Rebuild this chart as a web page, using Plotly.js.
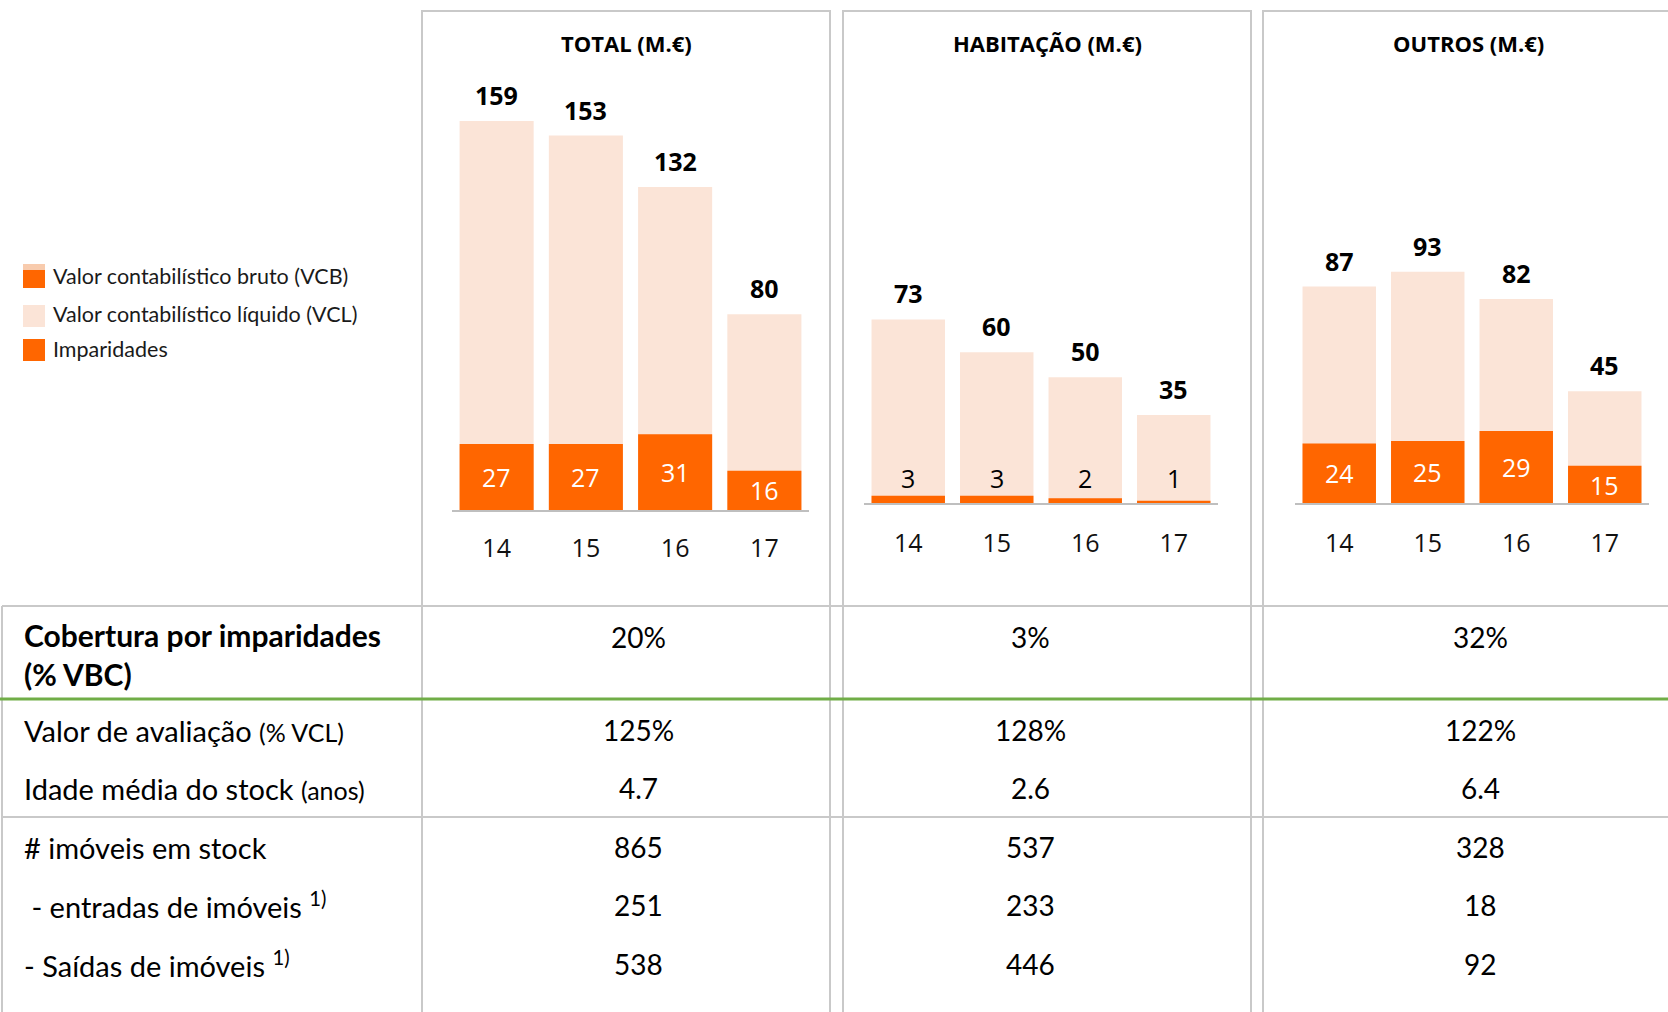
<!DOCTYPE html>
<html>
<head>
<meta charset="utf-8">
<script src="https://cdn.plot.ly/plotly-3.0.1.min.js"></script>
<style>
  html, body { margin: 0; padding: 0; background: #ffffff; }
  #chart { width: 1668px; height: 1012px; }
</style>
</head>
<body>
<div id="chart"></div>
<script>
// ---------------- DATA ----------------
const years = ['14', '15', '16', '17'];

const panelTitles = ['TOTAL (M.€)', 'HABITAÇÃO (M.€)', 'OUTROS (M.€)'];

// Valor contabilístico bruto (VCB), M.€
const totalVCB = [159, 153, 132, 80];
const habVCB   = [73, 60, 50, 35];
const outVCB   = [87, 93, 82, 45];

// Imparidades, M.€
const totalImp = [27, 27, 31, 16];
const habImp   = [3, 3, 2, 1];
const outImp   = [24, 25, 29, 15];

const legendLabels = [
  'Valor contabilístico bruto (VCB)',
  'Valor contabilístico líquido (VCL)',
  'Imparidades'
];

// Table
const rowLabels = [
  '<b>Cobertura por imparidades<br>(% VBC)</b>',
  'Valor de avaliação <span style="font-size:25px">(% VCL)</span>',
  'Idade média do stock <span style="font-size:25px">(anos)</span>',
  '# imóveis em stock',
  '\u00a0- entradas de imóveis <sup>1)</sup>',
  '- Saídas de imóveis <sup>1)</sup>'
];
const coberturaPct = [20, 3, 32];
const avaliacaoPct = [125, 128, 122];
const idadeAnos    = [4.7, 2.6, 6.4];
const imoveisStock = [865, 537, 328];
const entradas     = [251, 233, 18];
const saidas       = [538, 446, 92];

// ---------------- STYLE / LAYOUT HELPERS ----------------
const W = 1668, H = 1012;
const px = x => x / W;
const py = y => 1 - y / H;

const ORANGE = '#FF6600';
const PEACH = '#FBE4D7';
const PEACH_DARK = '#F8CBAD';
const GRID = '#C9C9C9';
const GREEN = '#70AD47';
const CHART_FONT = 'Open Sans, Noto Sans, sans-serif';
const TABLE_FONT = 'Lato, Open Sans, sans-serif';

const panels = [
  { title: panelTitles[0], vcb: totalVCB, imp: totalImp, ax: '',  xd: [452, 809],   base: 510,   top: 70, range: 179.8, cx: 626,  box: [422, 830], tl: 15 },
  { title: panelTitles[1], vcb: habVCB,   imp: habImp,   ax: '2', xd: [864, 1218],  base: 503.2, top: 70, range: 172.1, cx: 1047, box: [843, 1251], tl: 17 },
  { title: panelTitles[2], vcb: outVCB,   imp: outImp,   ax: '3', xd: [1295, 1649], base: 503.2, top: 70, range: 174.0, cx: 1468, box: [1263, 1720], tl: 17 }
];

const traces = [];
const annotations = [];
const shapes = [];
const layout = {
  width: W, height: H,
  margin: { l: 0, r: 0, t: 0, b: 0 },
  paper_bgcolor: '#ffffff',
  plot_bgcolor: 'rgba(0,0,0,0)',
  barmode: 'overlay',
  bargap: 0.17,
  showlegend: false,
  font: { family: CHART_FONT, color: '#000000' }
};

panels.forEach(p => {
  const xa = 'x' + p.ax, ya = 'y' + p.ax;
  const xName = 'xaxis' + p.ax, yName = 'yaxis' + p.ax;
  layout[xName] = {
    domain: [px(p.xd[0]), px(p.xd[1])],
    anchor: ya,
    type: 'category',
    range: [-0.5, years.length - 0.5],
    showline: true, linecolor: '#BFBFBF', linewidth: 2,
    ticks: 'outside', ticklen: p.tl, tickcolor: 'rgba(0,0,0,0)',
    tickfont: { family: CHART_FONT, size: 25, color: '#111111' },
    showgrid: false, zeroline: false, fixedrange: true
  };
  layout[yName] = {
    domain: [py(p.base), py(p.top)],
    anchor: xa,
    range: [0, p.range],
    visible: false, fixedrange: true
  };
  // VCB (gross) bar
  traces.push({
    type: 'bar', x: years, y: p.vcb, xaxis: xa, yaxis: ya,
    marker: { color: PEACH, line: { width: 0 } },
    hoverinfo: 'skip', name: legendLabels[0]
  });
  // Imparidades bar
  traces.push({
    type: 'bar', x: years, y: p.imp, xaxis: xa, yaxis: ya,
    marker: { color: ORANGE, line: { width: 0 } },
    hoverinfo: 'skip', name: legendLabels[2]
  });
  // total labels
  p.vcb.forEach((v, i) => {
    annotations.push({
      xref: xa, yref: ya, x: i, y: v, yshift: 26,
      xanchor: 'center', yanchor: 'middle', showarrow: false,
      text: '<b>' + v + '</b>',
      font: { family: CHART_FONT, size: 25, color: '#000000' }
    });
  });
  // imparidades labels
  const pxPerUnit = (p.base - p.top) / p.range;
  p.imp.forEach((v, i) => {
    const small = v * pxPerUnit < 30;
    annotations.push({
      xref: xa, yref: ya, x: i, y: small ? 0 : v / 2, yshift: small ? 25 : 0,
      xanchor: 'center', yanchor: 'middle', showarrow: false,
      text: String(v),
      font: { family: CHART_FONT, size: 25, color: small ? '#000000' : '#FFFFFF' }
    });
  });
  // panel title
  annotations.push({
    xref: 'paper', yref: 'paper', x: px(p.cx), y: py(43),
    xanchor: 'center', yanchor: 'middle', showarrow: false,
    text: '<b>' + p.title + '</b>',
    font: { family: CHART_FONT, size: 22, color: '#000000' }
  });
  // panel frame
  shapes.push({
    type: 'rect', xref: 'paper', yref: 'paper',
    x0: px(p.box[0]), x1: px(p.box[1]), y0: py(1030), y1: py(11),
    line: { color: GRID, width: 2 }, fillcolor: 'rgba(0,0,0,0)', layer: 'below'
  });
});

// ---------------- LEGEND (custom swatches) ----------------
const legRows = [276, 314, 349];
// VCB composite swatch
shapes.push({ type: 'rect', xref: 'paper', yref: 'paper', x0: px(23), x1: px(45), y0: py(288), y1: py(264), fillcolor: PEACH_DARK, line: { width: 0 } });
shapes.push({ type: 'rect', xref: 'paper', yref: 'paper', x0: px(23), x1: px(45), y0: py(288), y1: py(270), fillcolor: ORANGE, line: { width: 0 } });
// VCL swatch
shapes.push({ type: 'rect', xref: 'paper', yref: 'paper', x0: px(23), x1: px(45), y0: py(327), y1: py(305), fillcolor: PEACH, line: { width: 0 } });
// Imparidades swatch
shapes.push({ type: 'rect', xref: 'paper', yref: 'paper', x0: px(23), x1: px(45), y0: py(361), y1: py(339), fillcolor: ORANGE, line: { width: 0 } });
legendLabels.forEach((t, i) => {
  annotations.push({
    xref: 'paper', yref: 'paper', x: px(51), y: py(legRows[i]),
    xanchor: 'left', yanchor: 'middle', showarrow: false, text: t,
    font: { family: TABLE_FONT, size: 21.5, color: '#1a1a1a' }
  });
});

// ---------------- TABLE ----------------
shapes.push({ type: 'line', xref: 'paper', yref: 'paper', x0: px(2), x1: px(1668), y0: py(606), y1: py(606), line: { color: GRID, width: 2 } });
shapes.push({ type: 'line', xref: 'paper', yref: 'paper', x0: px(2), x1: px(1668), y0: py(817), y1: py(817), line: { color: GRID, width: 2 } });
shapes.push({ type: 'line', xref: 'paper', yref: 'paper', x0: px(2), x1: px(2), y0: py(606), y1: py(1030), line: { color: GRID, width: 2 } });
shapes.push({ type: 'line', xref: 'paper', yref: 'paper', x0: px(0), x1: px(1668), y0: py(699), y1: py(699), line: { color: GREEN, width: 3 } });

const rowY = [654, 730, 788, 847, 905, 964];
const valueRowY = [637, 730, 788, 847, 905, 964];
const colX = [638, 1030, 1480];
const tableValues = [
  coberturaPct.map(v => v + '%'),
  avaliacaoPct.map(v => v + '%'),
  idadeAnos.map(v => v.toFixed(1)),
  imoveisStock.map(String),
  entradas.map(String),
  saidas.map(String)
];
rowLabels.forEach((t, r) => {
  annotations.push({
    xref: 'paper', yref: 'paper', x: px(22), y: py(rowY[r]),
    xanchor: 'left', yanchor: 'middle', align: 'left', showarrow: false, text: t,
    font: { family: TABLE_FONT, size: r === 0 ? 30 : 29, color: '#000000' }
  });
  tableValues[r].forEach((v, c) => {
    annotations.push({
      xref: 'paper', yref: 'paper', x: px(colX[c]), y: py(valueRowY[r]),
      xanchor: 'center', yanchor: 'middle', showarrow: false, text: v,
      font: { family: TABLE_FONT, size: 28, color: '#000000' }
    });
  });
});

layout.annotations = annotations;
layout.shapes = shapes;

Plotly.newPlot('chart', traces, layout, { displayModeBar: false, staticPlot: true });
</script>
</body>
</html>
